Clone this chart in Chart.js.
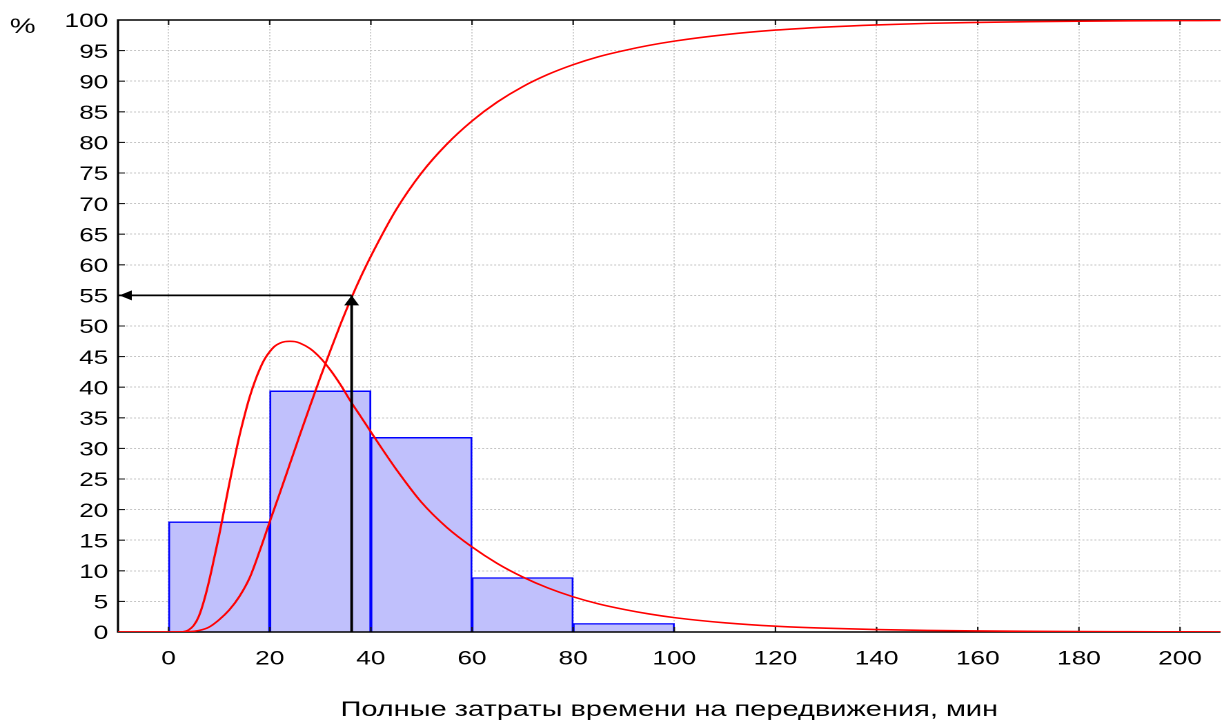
<!DOCTYPE html>
<html>
<head>
<meta charset="utf-8">
<script src="https://cdn.jsdelivr.net/npm/chart.js@4/dist/chart.umd.min.js"></script>
<style>
html,body{margin:0;padding:0;background:#fff;overflow:hidden}
#c{display:block}
</style>
</head>
<body>
<canvas id="c" width="887" height="720" style="width:1224px;height:720px"></canvas>
<script>
// ---- data ----
const xTickValues = [0, 20, 40, 60, 80, 100, 120, 140, 160, 180, 200];
const yTickValues = [0, 5, 10, 15, 20, 25, 30, 35, 40, 45, 50, 55, 60, 65, 70, 75, 80, 85, 90, 95, 100];
const binCenters = [10, 30, 50, 70, 90];
const binPercents = [18, 39.4, 31.8, 8.9, 1.4];

const pdfX = [-10, 0, 2, 3, 4, 5, 6, 7, 8, 9, 10, 11, 12, 13, 14, 15, 16, 17, 18, 19, 20, 21, 22, 23, 24, 25, 26, 28, 30, 32, 34, 36, 38, 40, 42, 45, 50, 55, 60, 65, 70, 75, 80, 85, 90, 95, 100, 110, 120, 130, 140, 150, 160, 170, 180, 190, 200, 208];
const pdfY = [0, 0, 0, 0.05, 0.35, 1.1, 2.6, 5.1, 8.3, 12, 15.8, 20, 24.2, 28.2, 32, 35.3, 38.3, 40.8, 42.9, 44.6, 45.8, 46.7, 47.2, 47.45, 47.5, 47.45, 47.2, 46.3, 44.8, 42.8, 40.4, 37.7, 35.2, 32.7, 30.2, 26.6, 21.2, 17.1, 13.9, 11.2, 9.0, 7.2, 5.75, 4.6, 3.7, 2.95, 2.35, 1.5, 0.95, 0.62, 0.4, 0.26, 0.17, 0.11, 0.07, 0.05, 0.03, 0.02];

const cdfX = [-10, 0, 4, 6, 8, 10, 12, 14, 16, 18, 20, 22, 24, 26, 28, 30, 32, 34, 36, 38, 40, 45, 50, 55, 60, 65, 70, 75, 80, 85, 90, 95, 100, 110, 120, 130, 140, 150, 160, 170, 180, 190, 200, 208];
const cdfY = [0, 0, 0.05, 0.25, 0.8, 2.0, 3.6, 5.8, 8.8, 13.2, 18.0, 22.7, 27.5, 32.3, 37.0, 41.6, 46.0, 50.3, 54.3, 58.0, 61.4, 69.0, 75.0, 79.7, 83.5, 86.6, 89.1, 91.1, 92.7, 94.0, 95.0, 95.85, 96.55, 97.6, 98.35, 98.85, 99.2, 99.45, 99.6, 99.72, 99.8, 99.86, 99.9, 99.92];

const markerX = 36.2;      // минуты
const markerPercent = 55;  // %
const xMin = -10, xMax = 208;

const xTitle = 'Полные затраты времени на передвижения, мин';
const yUnit = '%';

// ---- helpers ----
const FONT = '"Liberation Sans", Arial, Helvetica, sans-serif';
const pts = (xs, ys) => xs.map((x, i) => ({x, y: ys[i]}));

const framePlugin = {
  id: 'framePlugin',
  afterDatasetDraw(chart, args) {
    if (args.index !== 0) return;
    const {ctx, chartArea: a, scales: {x, y}} = chart;
    ctx.save();
    ctx.strokeStyle = '#1a1a1a';
    ctx.lineWidth = 1.1;
    ctx.beginPath();
    x.ticks.forEach(t => {
      const px = x.getPixelForValue(t.value);
      ctx.moveTo(px, a.bottom); ctx.lineTo(px, a.bottom - 5);
      ctx.moveTo(px, a.top); ctx.lineTo(px, a.top + 5);
    });
    y.ticks.forEach(t => {
      const py = y.getPixelForValue(t.value);
      ctx.moveTo(a.left, py); ctx.lineTo(a.left + 5, py);
    });
    ctx.stroke();
    ctx.strokeStyle = '#000';
    ctx.lineWidth = 1.6;
    ctx.beginPath();
    ctx.moveTo(a.right, a.top);
    ctx.lineTo(a.left, a.top);
    ctx.lineTo(a.left, a.bottom);
    ctx.lineTo(a.right, a.bottom);
    ctx.stroke();
    ctx.restore();
  },
  afterDatasetsDraw(chart) {
    const {ctx, scales: {x, y}} = chart;
    const vx = x.getPixelForValue(markerX);
    const vy = y.getPixelForValue(markerPercent);
    const hx = x.getPixelForValue(xMin);
    ctx.save();
    ctx.fillStyle = '#000';
    ctx.beginPath();
    ctx.moveTo(vx, vy);
    ctx.lineTo(vx - 5.4, vy + 10);
    ctx.lineTo(vx + 5.4, vy + 10);
    ctx.closePath();
    ctx.fill();
    ctx.beginPath();
    ctx.moveTo(hx + 1, vy);
    ctx.lineTo(hx + 10, vy - 5);
    ctx.lineTo(hx + 10, vy + 5);
    ctx.closePath();
    ctx.fill();
    ctx.restore();
  },
  afterDraw(chart) {
    const {ctx} = chart;
    ctx.save();
    ctx.fillStyle = '#000';
    ctx.font = '21px ' + FONT;
    ctx.textAlign = 'center';
    ctx.textBaseline = 'middle';
    ctx.fillText(yUnit, 16.5, 27);
    ctx.restore();
  }
};

new Chart(document.getElementById('c'), {
  type: 'bar',
  data: {
    datasets: [
      {
        type: 'bar',
        data: pts(binCenters, binPercents),
        backgroundColor: 'rgb(192,192,252)',
        borderColor: '#0000ff',
        borderWidth: 1.4,
        barPercentage: 1,
        categoryPercentage: 1,
        order: 3
      },
      {
        type: 'line',
        data: pts(pdfX, pdfY),
        borderColor: '#ff0000',
        borderWidth: 1.6,
        pointRadius: 0,
        cubicInterpolationMode: 'monotone',
        fill: false,
        order: 2
      },
      {
        type: 'line',
        data: pts(cdfX, cdfY),
        borderColor: '#ff0000',
        borderWidth: 1.6,
        pointRadius: 0,
        cubicInterpolationMode: 'monotone',
        fill: false,
        order: 2
      },
      {
        type: 'line',
        data: [{x: markerX, y: 0}, {x: markerX, y: markerPercent}],
        borderColor: '#000',
        borderWidth: 2,
        pointRadius: 0,
        fill: false,
        order: 1
      },
      {
        type: 'line',
        data: [{x: markerX, y: markerPercent}, {x: xMin, y: markerPercent}],
        borderColor: '#000',
        borderWidth: 1.8,
        pointRadius: 0,
        fill: false,
        order: 1
      }
    ]
  },
  options: {
    responsive: false,
    devicePixelRatio: 2,
    animation: false,
    layout: {padding: {left: 0, right: 0, top: 20, bottom: 0}},
    plugins: {legend: {display: false}, tooltip: {enabled: false}},
    scales: {
      x: {
        type: 'linear',
        min: xMin,
        max: xMax,
        offset: false,
        grid: {offset: false, color: '#c4c4c4', lineWidth: 0.8, drawTicks: false},
        border: {display: false, dash: [1.5, 1.5]},
        afterBuildTicks: s => { s.ticks = xTickValues.map(v => ({value: v})); },
        afterFit: s => { s.height = 88; },
        ticks: {color: '#000', font: {family: FONT, size: 19}, padding: 16, maxRotation: 0, autoSkip: false},
        title: {display: true, text: xTitle, color: '#000', font: {family: FONT, size: 21}, padding: {top: 0, bottom: -3}}
      },
      y: {
        type: 'linear',
        min: 0,
        max: 100,
        grid: {color: '#c4c4c4', lineWidth: 1, drawTicks: false},
        border: {display: false, dash: [1.45, 1.45]},
        afterBuildTicks: s => { s.ticks = yTickValues.map(v => ({value: v})); },
        afterFit: s => { s.width = 85.5; },
        ticks: {color: '#000', font: {family: FONT, size: 19}, padding: 7, labelOffset: 2, autoSkip: false}
      }
    }
  },
  plugins: [framePlugin]
});
</script>
</body>
</html>
